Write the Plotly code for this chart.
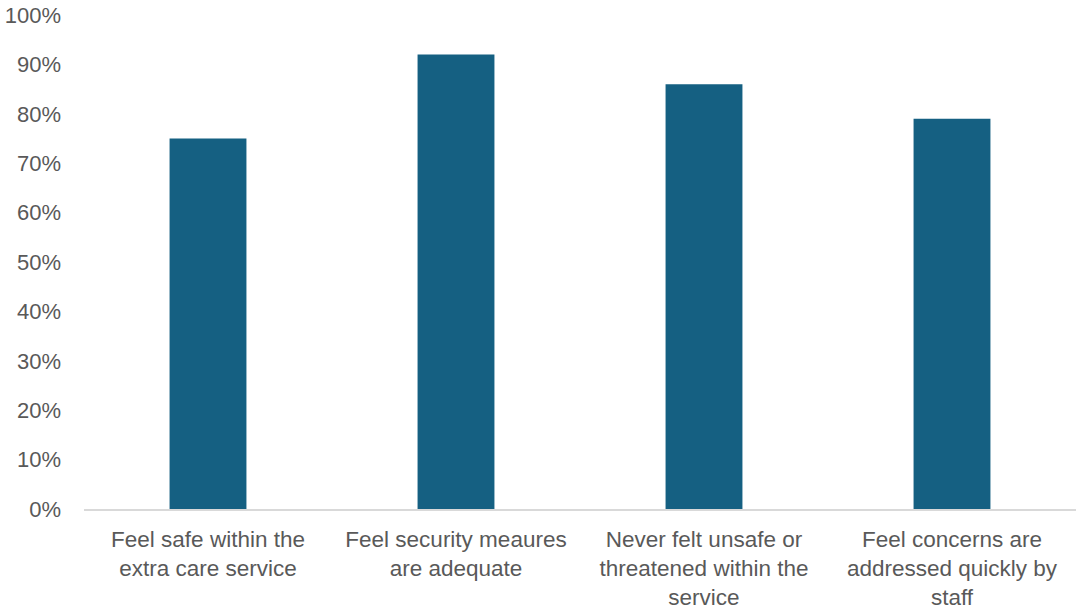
import plotly.graph_objects as go

categories = [
    "Feel safe within the<br>extra care service",
    "Feel security meaures<br>are adequate",
    "Never felt unsafe or<br>threatened within the<br>service",
    "Feel concerns are<br>addressed quickly by<br>staff",
]
values = [0.75, 0.92, 0.86, 0.79]
tick_vals = [i / 10 for i in range(11)]
tick_text = [f"{i*10}%" for i in range(11)]

fig = go.Figure(
    go.Bar(
        x=categories,
        y=values,
        marker=dict(color="#156082", line=dict(width=0)),
        width=0.31,
    )
)

yfont = dict(family="Liberation Sans, Arial, sans-serif", size=22, color="#595959")
xfont = dict(family="Liberation Sans, Arial, sans-serif", size=22.5, color="#595959")

fig.update_layout(
    width=1076,
    height=609,
    margin=dict(l=84, r=0, t=15, b=100),
    paper_bgcolor="white",
    plot_bgcolor="white",
    font=yfont,
    showlegend=False,
)
fig.update_xaxes(
    showline=True,
    linecolor="#d9d9d9",
    linewidth=1.5,
    showgrid=False,
    ticks="",
    tickfont=xfont,
    tickangle=0,
    ticklabelstandoff=9,
)
fig.update_yaxes(
    range=[0, 1],
    tickvals=tick_vals,
    ticktext=tick_text,
    showgrid=False,
    zeroline=False,
    showline=False,
    ticks="",
    tickfont=yfont,
    ticklabelstandoff=22,
)

fig.write_html("out.html")
